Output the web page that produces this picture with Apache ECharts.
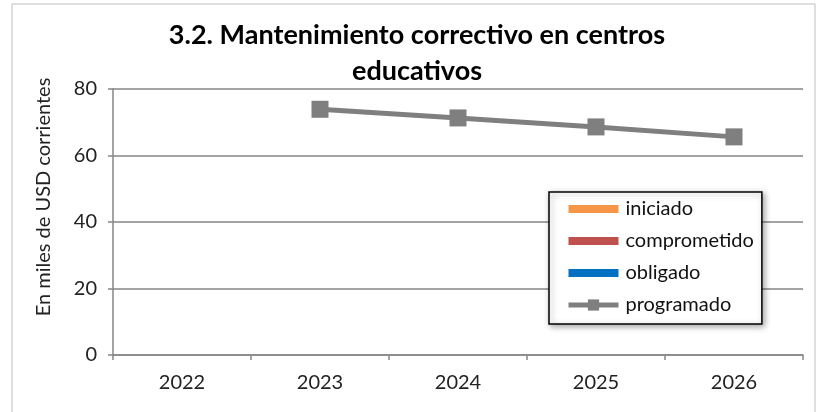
<!DOCTYPE html>
<html><head><meta charset="utf-8">
<script src="https://cdn.jsdelivr.net/npm/echarts@6/dist/echarts.min.js"></script>
<style>html,body{margin:0;padding:0;background:#fff}#c{width:819px;height:412px}</style>
</head><body><div id="c"></div>
<script>
var categories = ['2022', '2023', '2024', '2025', '2026'];
var iniciado = [null, null, null, null, null];
var comprometido = [null, null, null, null, null];
var obligado = [null, null, null, null, null];
var programado = [null, 73.9, 71.3, 68.6, 65.6];
var yTicks = [0, 20, 40, 60, 80];

var FONT = 'Lato, "Open Sans", sans-serif';
var chart = echarts.init(document.getElementById('c'), null, {renderer: 'canvas'});
chart.setOption({
  animation: false,
  backgroundColor: '#fff',
  textStyle: {fontFamily: FONT},
  title: {
    text: '3.2. Mantenimiento correctivo en centros\neducativos',
    left: 412, top: 12, textAlign: 'center',
    textStyle: {fontFamily: FONT, fontSize: 27, fontWeight: 'bold', color: '#000', lineHeight: 36}
  },
  graphic: [
    {type: 'rect', shape: {x: 12, y: 4, width: 803, height: 420}, style: {fill: 'none', stroke: '#bfbfbf', lineWidth: 1}, silent: true},
    {type: 'text', x: 44, y: 197, rotation: Math.PI / 2,
     style: {text: 'En miles de USD corrientes', font: '20px ' + FONT, fill: '#222', align: 'center', verticalAlign: 'middle'}}
  ],
  grid: {left: 113, right: 16, top: 89, bottom: 57},
  legend: {
    orient: 'vertical', left: 549, top: 192, width: 210,
    backgroundColor: '#fff', borderColor: '#000', borderWidth: 1.5,
    shadowColor: 'rgba(0,0,0,0.35)', shadowBlur: 6, shadowOffsetX: 2, shadowOffsetY: 2,
    padding: [7, 8, 9, 17], itemGap: 12, itemWidth: 50, itemHeight: 14,
    textStyle: {fontFamily: FONT, fontSize: 20, color: '#111', padding: [0, 0, 0, 2]},
    data: [
      {name: 'iniciado', icon: 'path://M0,3H50V11H0Z'},
      {name: 'comprometido', icon: 'path://M0,3H50V11H0Z'},
      {name: 'obligado', icon: 'path://M0,3H50V11H0Z'},
      {name: 'programado', lineStyle: {width: 5}}
    ]
  },
  xAxis: {
    type: 'category', data: categories, boundaryGap: true,
    axisLine: {lineStyle: {color: '#868686', width: 1.5}},
    axisTick: {show: true, length: 5, alignWithLabel: false, lineStyle: {color: '#868686', width: 1.5}},
    axisLabel: {fontFamily: FONT, fontSize: 20, color: '#222', margin: 18}
  },
  yAxis: {
    type: 'value', min: yTicks[0], max: yTicks[yTicks.length - 1], interval: 20,
    axisLine: {show: true, lineStyle: {color: '#868686', width: 1.5}},
    axisTick: {show: true, length: 5, lineStyle: {color: '#868686', width: 1.5}},
    axisLabel: {fontFamily: FONT, fontSize: 20, color: '#222', margin: 16},
    splitLine: {show: true, lineStyle: {color: '#868686', width: 1.5}}
  },
  series: [
    {name: 'iniciado', type: 'bar', data: iniciado, itemStyle: {color: '#f79646'}},
    {name: 'comprometido', type: 'bar', data: comprometido, itemStyle: {color: '#c0504d'}},
    {name: 'obligado', type: 'bar', data: obligado, itemStyle: {color: '#0070c0'}},
    {name: 'programado', type: 'line', data: programado, symbol: 'rect', symbolSize: 17,
     lineStyle: {color: '#7f7f7f', width: 5}, itemStyle: {color: '#7f7f7f'}}
  ]
});
</script></body></html>
